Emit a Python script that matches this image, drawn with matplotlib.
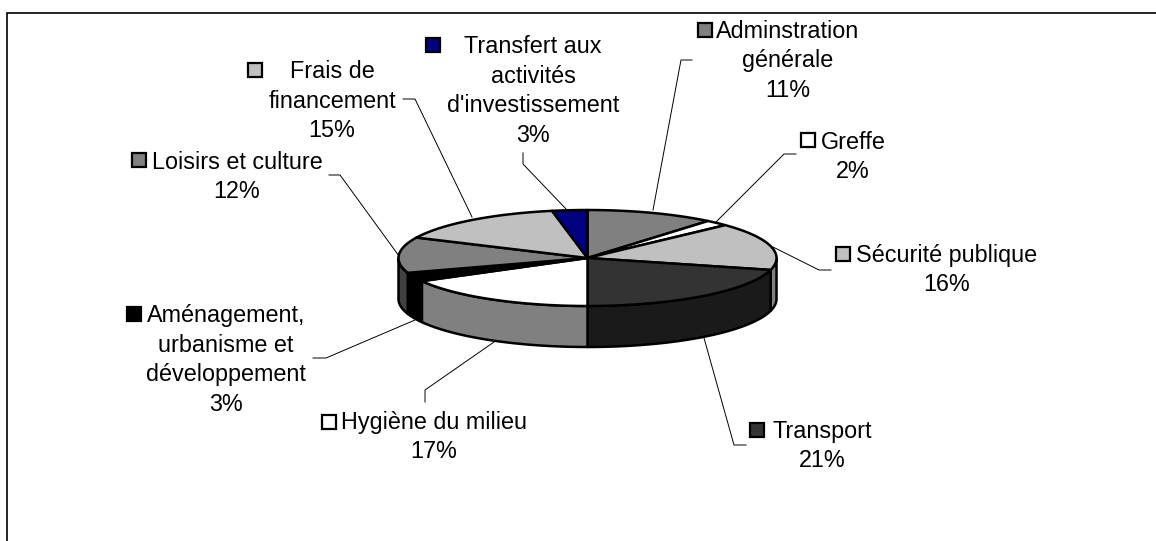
import numpy as np
import matplotlib
matplotlib.use('Agg')
import matplotlib.pyplot as plt
from matplotlib.patches import Polygon, Rectangle

plt.rcParams['font.family'] = ['Liberation Sans', 'DejaVu Sans']

# data, clockwise from 12 o'clock
categories = ["Adminstration\ngénérale", "Greffe", "Sécurité publique", "Transport",
			"Hygiène du milieu", "Aménagement,\nurbanisme et\ndéveloppement", "Loisirs et culture",
			"Frais de\nfinancement", "Transfert aux\nactivités\nd'investissement"]
percents = [11, 2, 16, 21, 17, 3, 12, 15, 3]

# colours
top_colors = ['#808080', '#ffffff', '#c0c0c0', '#333333', '#ffffff', '#000000', '#808080', '#c0c0c0', '#000080']
side_colors = ['#404040', '#808080', '#808080', '#1a1a1a', '#808080', '#000000', '#404040', '#606060', '#000040']

# layout in pixels
W, H = 1156, 541
cx, cy, rx, ry, depth = 587.5, 258, 189, 48, 41
label_pos = [(788, 61), (853, 157), (947, 270), (822, 446), (434, 437), (226, 360), (237, 177), (332, 101), (533, 91)]
key_pos = [(705, 30), (808, 140), (843, 254), (757, 430), (329, 422), (134, 314), (139, 160), (255, 70), (433, 45)]
leaders = [[(692, 60), (681, 60), (653, 210)],
		[(796, 154), (784, 154), (716, 222)],
		[(831, 270), (819, 270), (773, 247)],
		[(746, 445), (734, 445), (704, 338)],
		[(425, 402), (425, 390), (494, 342)],
		[(313, 358), (326, 358), (415, 320)],
		[(329, 175), (340, 175), (399, 256)],
		[(403, 99), (415, 99), (472, 217)],
		[(523, 153), (523, 164), (567, 210)]]


def ellipse(a0, a1, n=60):
	# angles clockwise from the top
	t = np.radians(np.linspace(a0, a1, n))
	return cx + rx*np.sin(t), cy - ry*np.cos(t)


def main():
	fig = plt.figure(figsize=(W/100, H/100), dpi=100)
	ax = fig.add_axes([0, 0, 1, 1])
	ax.set_xlim(0, W)
	ax.set_ylim(H, 0)
	ax.axis('off')

	# chart frame
	ax.add_patch(Rectangle((6.5, 12.5), W, H, fc='white', ec='black', lw=1.2, zorder=0))

	edges = np.cumsum([0] + percents)*3.6

	# outer wall, only the front half (90..270 deg) is visible
	for a0, a1, c in zip(edges[:-1], edges[1:], side_colors):
		lo, hi = max(a0, 90), min(a1, 270)
		if lo >= hi:
			continue
		x, y = ellipse(lo, hi)
		pts = np.r_[np.c_[x, y], np.c_[x[::-1], y[::-1] + depth]]
		ax.add_patch(Polygon(pts, closed=True, fc=c, ec='black', lw=1.8, joinstyle='round', zorder=2))

	# top face
	for a0, a1, c in zip(edges[:-1], edges[1:], top_colors):
		x, y = ellipse(a0, a1)
		pts = np.r_[[(cx, cy)], np.c_[x, y]]
		ax.add_patch(Polygon(pts, closed=True, fc=c, ec='black', lw=1.8, joinstyle='round', zorder=3))

	# leader lines
	for pts in leaders:
		pts = np.array(pts)
		ax.plot(pts[:, 0], pts[:, 1], color='black', lw=0.7, zorder=1)

	# labels with their legend keys
	for name, p, xy, k, c in zip(categories, percents, label_pos, key_pos, top_colors):
		ax.text(xy[0], xy[1], "{}\n{}%".format(name, p), ha='center', va='center', fontsize=16.8,
				linespacing=1.36, color='black', zorder=5)
		ax.add_patch(Rectangle((k[0]-7, k[1]-7), 14, 14, fc=c, ec='black', lw=1.6, zorder=5))

	fig.savefig('out.png', dpi=100)


if __name__ == "__main__":
	main()
